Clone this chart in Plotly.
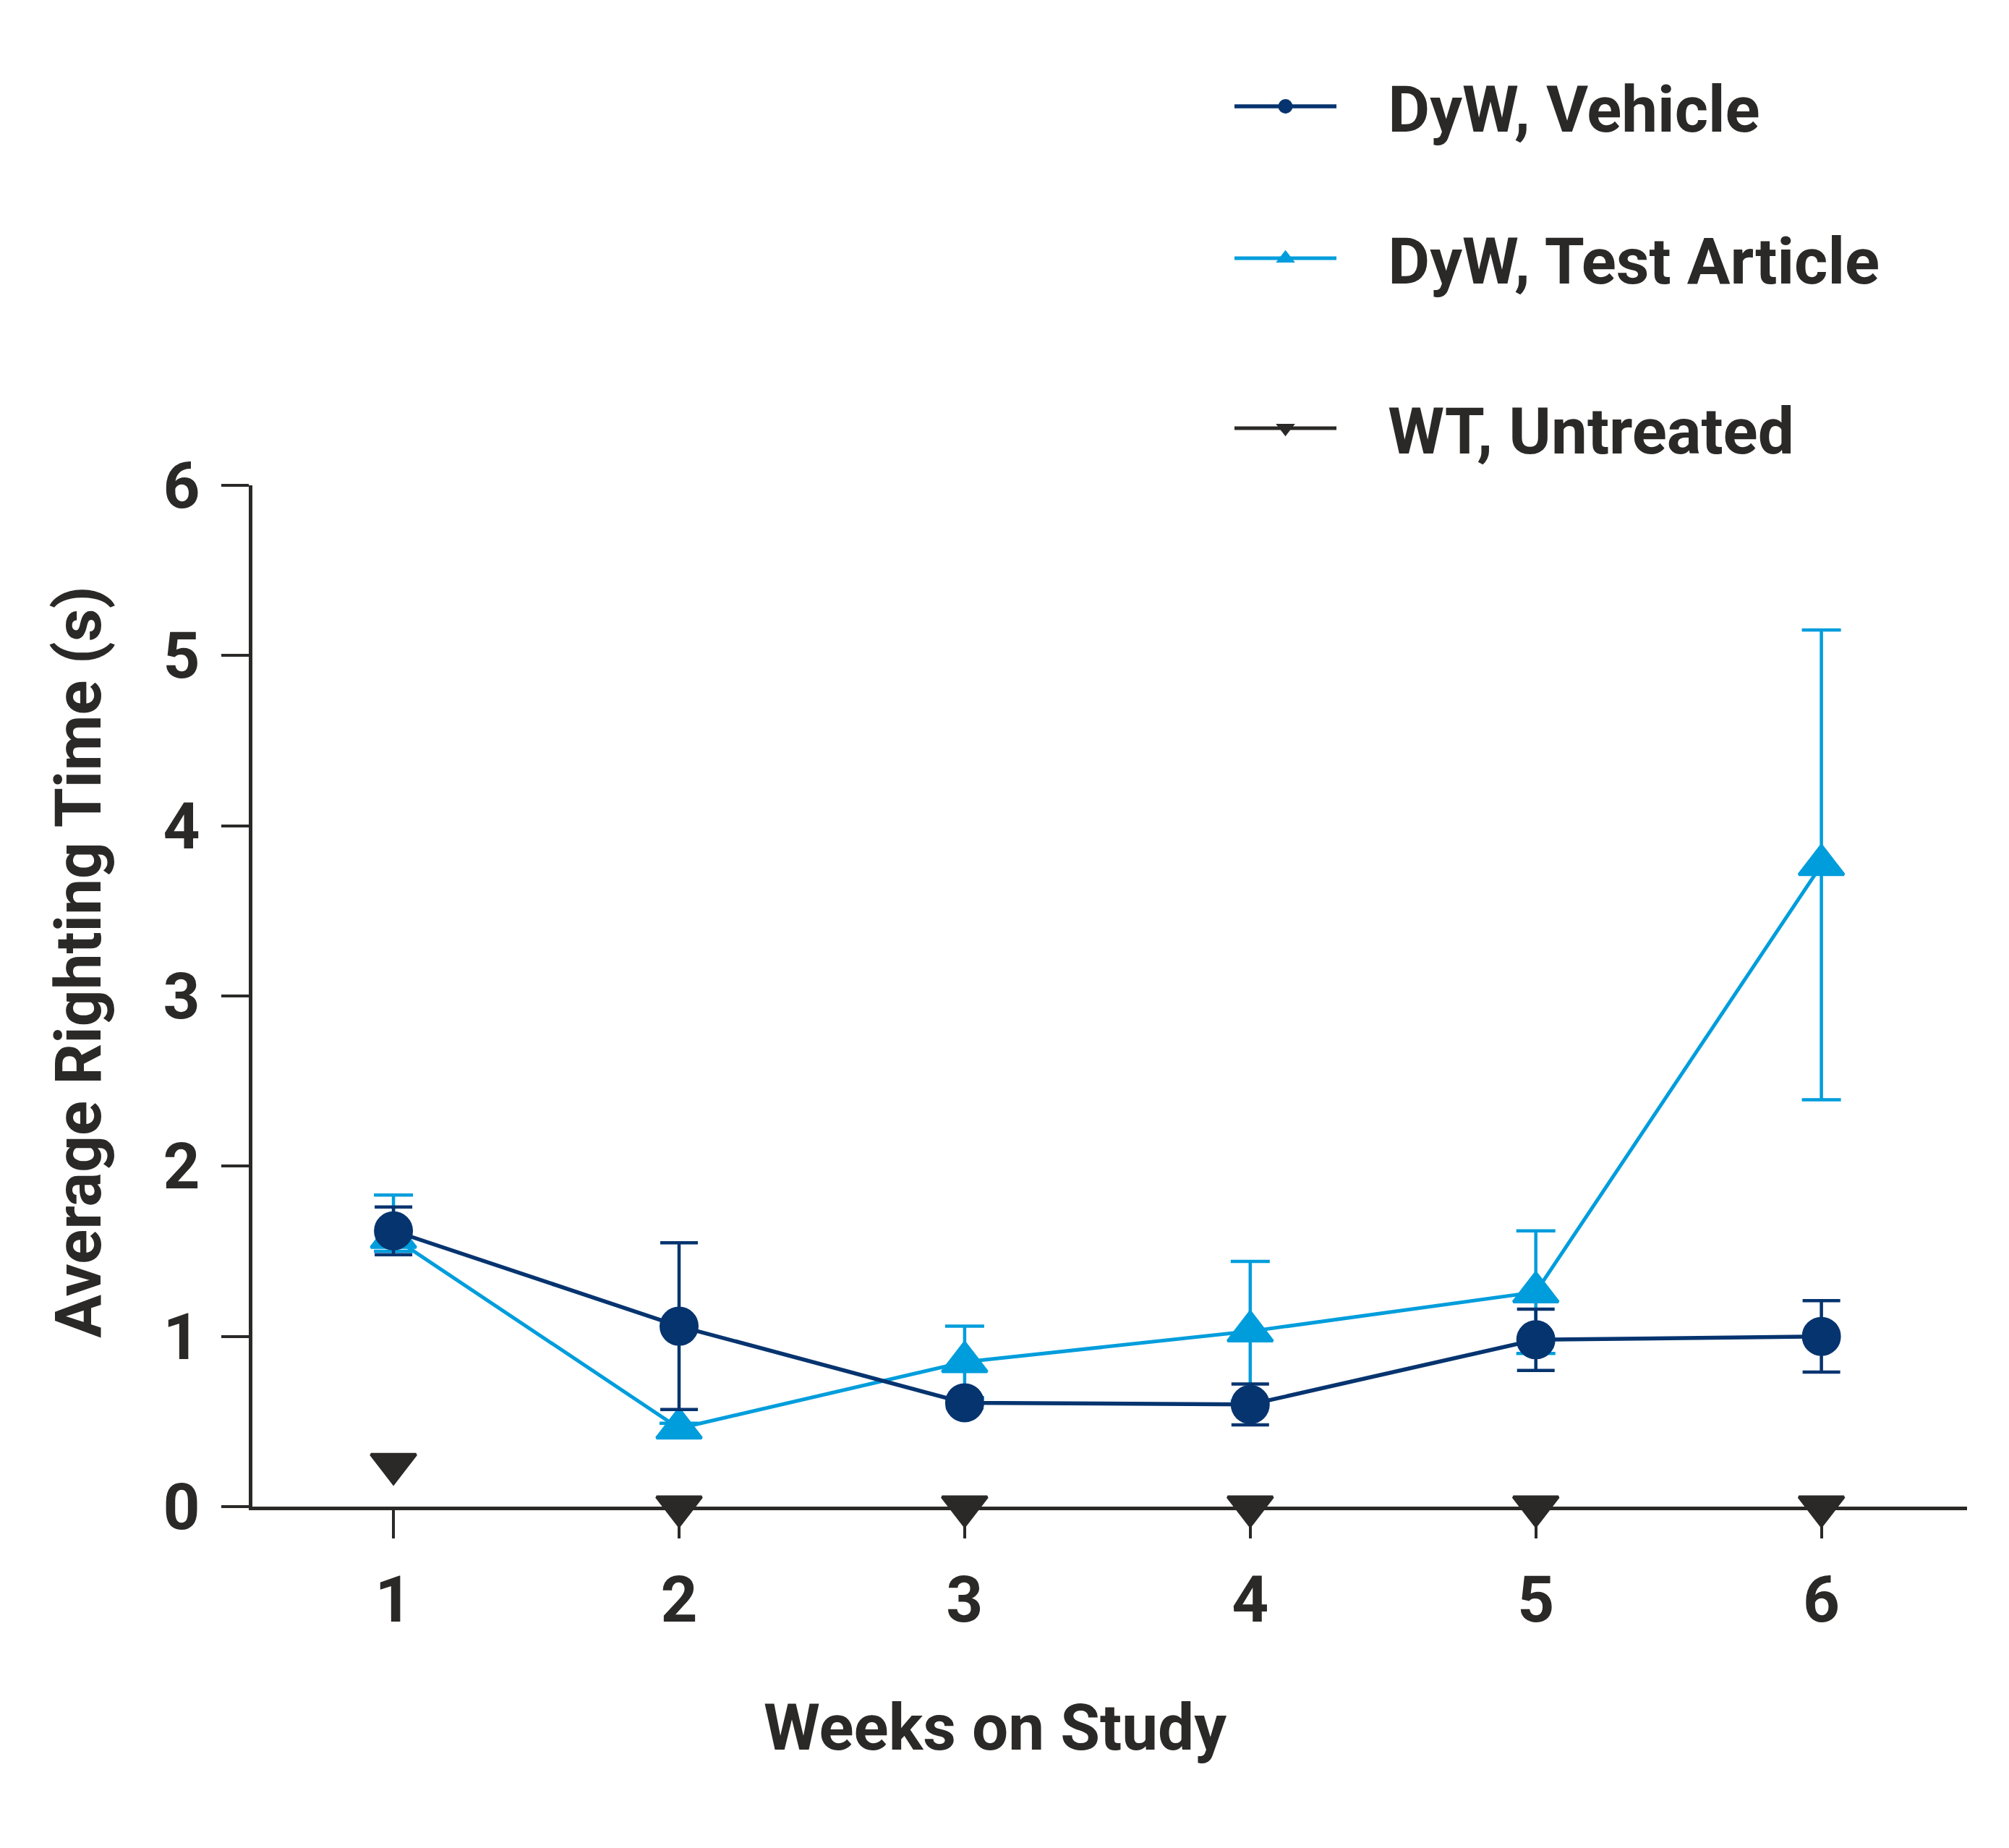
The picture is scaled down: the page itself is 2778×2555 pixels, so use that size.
import plotly.graph_objects as go

# ---- data ----
weeks = [1, 2, 3, 4, 5, 6]
vehicle_mean = [1.62, 1.06, 0.61, 0.60, 0.98, 1.00]
vehicle_err = [0.14, 0.49, 0.03, 0.12, 0.18, 0.21]
test_mean = [1.58, 0.46, 0.85, 1.03, 1.26, 3.77]
test_err_plus = [0.25, 0.03, 0.21, 0.41, 0.36, 1.38]
test_err_minus = [0.08, 0.03, 0.21, 0.41, 0.36, 1.38]
wt_mean = [0.25, 0.0, 0.0, 0.0, 0.0, 0.0]
y_ticks = [0, 1, 2, 3, 4, 5, 6]
series_names = ["DyW, Vehicle", "DyW, Test Article", "WT, Untreated"]
x_title = "Weeks on Study"
y_title = "Average Righting Time (s)"

NAVY = "#06346f"
CYAN = "#009ddc"
DARK = "#2a2927"
FONT = "Roboto, 'DejaVu Sans', sans-serif"
FS = 89

# page body has an 8px default margin; compensate so the plot lands
# where it sits in the reference
OFF = 8
W, H = 2778 - OFF, 2555 - OFF
PLOT_L, PLOT_R, PLOT_T, PLOT_B = 349, 2720, 671, 2083.5  # page pixels
ML = PLOT_L - OFF
MR = (W + OFF) - PLOT_R
MT = PLOT_T - OFF
MB = (H + OFF) - PLOT_B
PW = PLOT_R - PLOT_L
PH = PLOT_B - PLOT_T


def px_x(p):
    return (p - PLOT_L) / PW


def px_y(p):
    return (PLOT_B - p) / PH


NB = "\u00a0\u00a0\u00a0"

fig = go.Figure()

# Test article (drawn below vehicle)
fig.add_trace(go.Scatter(
    x=weeks, y=test_mean, name=NB + series_names[1], legend="legend2",
    mode="lines+markers",
    line=dict(color=CYAN, width=5),
    marker=dict(symbol="triangle-up", size=54, color=CYAN,
                line=dict(color=CYAN, width=4)),
    error_y=dict(type="data", symmetric=False, array=test_err_plus,
                 arrayminus=test_err_minus, visible=True,
                 color=CYAN, thickness=4.5, width=27),
    cliponaxis=False,
))

# Vehicle
fig.add_trace(go.Scatter(
    x=weeks, y=vehicle_mean, name=NB + series_names[0], legend="legend",
    mode="lines+markers",
    line=dict(color=NAVY, width=5.5),
    marker=dict(symbol="circle", size=50, color=NAVY,
                line=dict(color=NAVY, width=4)),
    error_y=dict(type="data", array=vehicle_err, visible=True,
                 color=NAVY, thickness=4.5, width=26),
    cliponaxis=False,
))

# WT untreated (markers only in plot)
fig.add_trace(go.Scatter(
    x=weeks, y=wt_mean, name=series_names[2], showlegend=False,
    mode="markers",
    marker=dict(symbol="triangle-down", size=54, color=DARK,
                line=dict(color=DARK, width=4)),
    cliponaxis=False,
))
# legend entry for WT (line + marker key)
fig.add_trace(go.Scatter(
    x=[None], y=[None], name=NB + series_names[2], legend="legend3",
    mode="lines+markers",
    line=dict(color=DARK, width=5),
    marker=dict(symbol="triangle-down", size=54, color=DARK,
                line=dict(color=DARK, width=4)),
))

tickfont = dict(family=FONT, size=FS, color=DARK, weight=700)
axis_common = dict(
    showgrid=False, zeroline=False, showline=True, linewidth=4.5,
    linecolor=DARK, ticks="outside", tickwidth=4, tickcolor=DARK,
    tickfont=tickfont, automargin=False,
)

fig.update_xaxes(range=[0.506, 6.51], tickvals=weeks, ticklen=39,
                 ticklabelstandoff=8, **axis_common)
fig.update_yaxes(range=[0, 6], tickvals=y_ticks, ticklen=38,
                 ticklabelstandoff=12, **axis_common)

legfont = dict(family=FONT, size=FS, color=DARK, weight=700)
leg_common = dict(xanchor="left", yanchor="middle", font=legfont,
                  bgcolor="rgba(0,0,0,0)", borderwidth=0,
                  itemwidth=141, itemsizing="trace")
lx = px_x(1702)
fig.update_layout(
    width=W, height=H,
    margin=dict(l=ML, r=MR, t=MT, b=MB, autoexpand=False),
    paper_bgcolor="white", plot_bgcolor="white",
    font=dict(family=FONT, color=DARK),
    legend=dict(x=lx, y=px_y(147), **leg_common),
    legend2=dict(x=lx, y=px_y(357), **leg_common),
    legend3=dict(x=lx, y=px_y(592), **leg_common),
    annotations=[
        dict(text=x_title, xref="paper", yref="paper",
             x=px_x(1376), y=px_y(2389), xanchor="center", yanchor="middle",
             showarrow=False, font=dict(family=FONT, size=FS, color=DARK, weight=700)),
        dict(text=y_title, xref="paper", yref="paper", textangle=-90,
             x=px_x(109), y=px_y(1330), xanchor="center", yanchor="middle",
             showarrow=False, font=dict(family=FONT, size=FS, color=DARK, weight=700)),
    ],
)

fig.write_html("out.html")
